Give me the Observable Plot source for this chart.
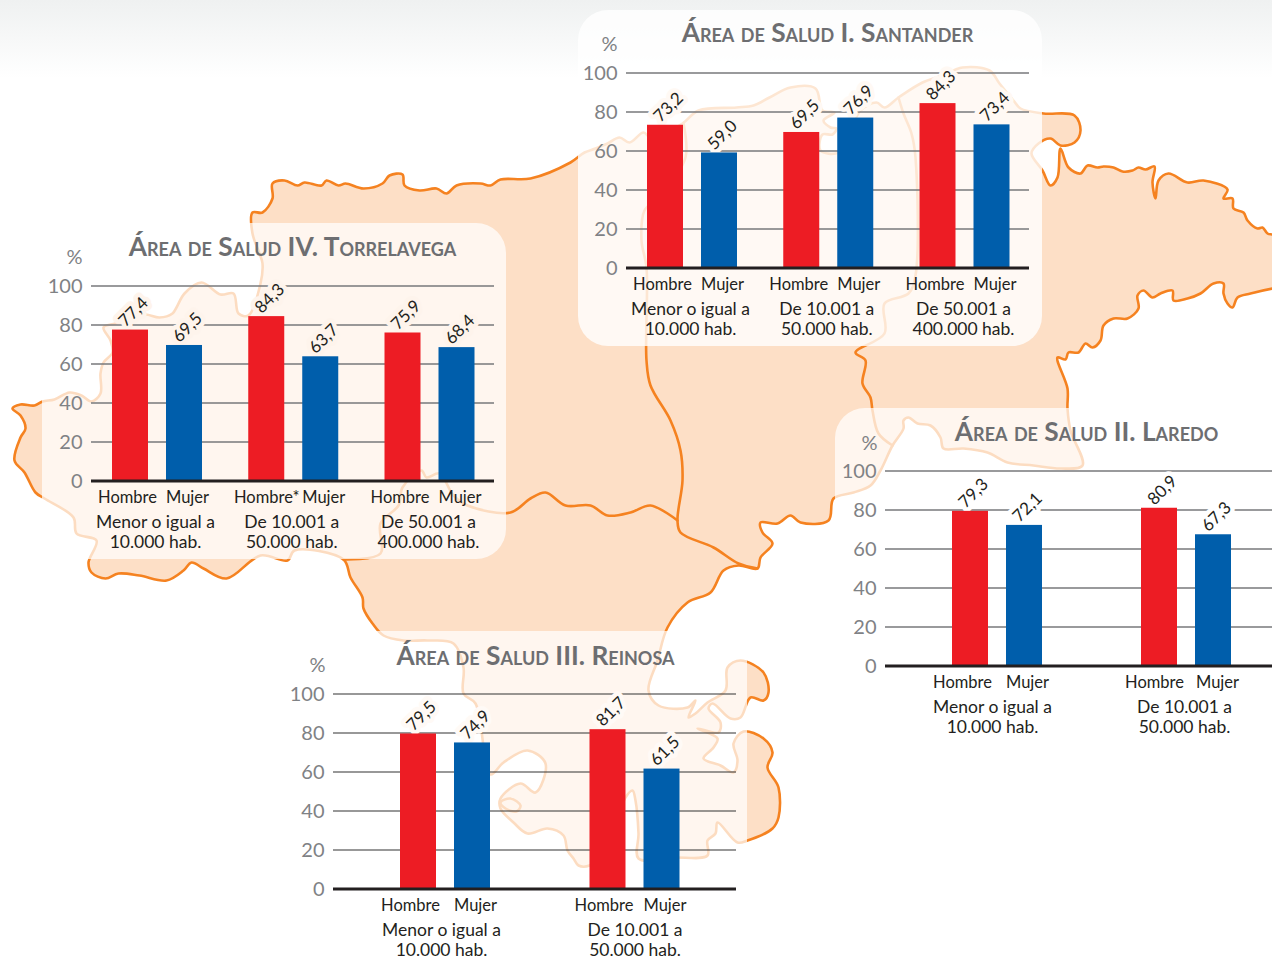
<!DOCTYPE html>
<html lang="es">
<head>
<meta charset="utf-8">
<script src="https://cdn.jsdelivr.net/npm/d3@7"></script>
<script src="https://cdn.jsdelivr.net/npm/@observablehq/plot@0.6"></script>
<style>
html,body{margin:0;padding:0;width:1272px;height:959px;overflow:hidden;background:#fff;}
#page{position:relative;width:1272px;height:959px;overflow:hidden;background:linear-gradient(#eff1f1 0,#ffffff 78px);}
#page svg{position:absolute;}
</style>
</head>
<body>
<div id="page"></div>
<script>
// ---------- chart values ----------
const sexes = ["Hombre", "Mujer"];
const sizeGroups = ["Menor o igual a\n10.000 hab.", "De 10.001 a\n50.000 hab.", "De 50.001 a\n400.000 hab."];
const yTicks = [0, 20, 40, 60, 80, 100];

const santanderValues = [73.2, 59.0, 69.5, 76.9, 84.3, 73.4];
const torrelavegaValues = [77.4, 69.5, 84.3, 63.7, 75.9, 68.4];
const reinosaValues = [79.5, 74.9, 81.7, 61.5];
const laredoValues = [79.3, 72.1, 80.9, 67.3];

const santanderTitle = "Área de Salud I. Santander";
const laredoTitle = "Área de Salud II. Laredo";
const reinosaTitle = "Área de Salud III. Reinosa";
const torrelavegaTitle = "Área de Salud IV. Torrelavega";

// ---------- map background ----------
const mapOutline = [[12,408],[20,404],[34,405],[42,401],[54,399],[69,392],[81,395],[91,401],[100,393],[100,373],[103,362],[112,352],[110,340],[103,327],[115,323],[135,317],[145,314],[159,317],[172,313],[176,307],[184,293],[201,282],[220,294],[233,293],[238,313],[248,315],[260,283],[262,263],[259,253],[252,233],[252,212],[262,212],[272,198],[272,183],[284,180],[297,185],[304,182],[321,185],[326,180],[338,185],[345,183],[363,188],[382,183],[389,175],[402,174],[404,185],[419,190],[436,188],[446,193],[456,185],[480,183],[490,185],[500,179],[530,178],[570,162],[584,152],[595,148],[607,143],[619,137],[629,142],[643,132],[651,138],[682,123],[698,110],[736,107],[753,105],[769,97],[790,87],[815,88],[822,110],[834,112],[823,120],[830,127],[836,128],[832,134],[822,134],[820,150],[838,152],[850,130],[860,110],[876,102],[884,107],[898,97],[922,82],[942,75],[962,67],[989,70],[999,83],[1013,100],[1020,108],[1043,113],[1074,115],[1080,130],[1074,142],[1060,145],[1050,138],[1038,143],[1031,153],[1042,170],[1050,185],[1057,177],[1060,148],[1068,167],[1080,173],[1087,165],[1097,167],[1103,166],[1113,167],[1122,171],[1132,170],[1138,167],[1145,169],[1154,166],[1152,182],[1155,198],[1158,180],[1168,173],[1187,182],[1203,180],[1227,189],[1223,198],[1232,198],[1233,208],[1243,212],[1247,220],[1257,228],[1262,227],[1267,233],[1272,234],[1295,236],[1295,285],[1272,288],[1250,293],[1237,297],[1232,307],[1227,303],[1223,293],[1223,283],[1213,283],[1200,293],[1187,298],[1173,300],[1172,290],[1160,293],[1152,297],[1143,290],[1137,295],[1138,308],[1127,318],[1113,318],[1103,325],[1100,340],[1092,347],[1085,343],[1078,352],[1068,352],[1065,359],[1057,357],[1067,388],[1067,408],[1070,430],[1082,465],[1060,468],[1033,465],[1007,462],[987,452],[963,448],[943,448],[940,437],[930,425],[917,423],[908,417],[903,420],[903,428],[892,445],[880,470],[870,485],[853,492],[833,498],[828,520],[800,522],[790,515],[777,523],[760,522],[762,532],[772,543],[760,557],[757,568],[738,565],[723,570],[710,592],[687,602],[667,627],[657,660],[648,690],[658,705],[687,707],[695,700],[688,717],[695,713],[707,702],[725,690],[727,667],[740,660],[763,672],[768,692],[763,700],[750,697],[740,717],[730,718],[712,703],[708,708],[720,722],[718,732],[697,728],[717,738],[713,747],[703,758],[720,765],[733,772],[737,760],[733,743],[743,731],[763,738],[772,752],[767,767],[778,787],[778,817],[772,828],[747,840],[737,842],[717,822],[715,833],[707,840],[707,855],[673,857],[638,858],[638,833],[635,800],[632,790],[625,797],[605,850],[589,865],[578,865],[573,858],[567,850],[563,835],[547,828],[527,833],[513,822],[500,808],[500,798],[520,783],[535,792],[545,763],[527,750],[503,762],[490,774],[475,703],[463,693],[463,667],[453,643],[427,640],[403,640],[383,635],[372,623],[363,608],[362,597],[350,577],[343,559],[294,550],[287,560],[260,555],[226,578],[203,568],[191,562],[183,570],[166,580],[139,575],[118,573],[105,578],[91,572],[88,562],[96,540],[76,533],[73,517],[44,498],[35,492],[24,472],[14,460],[20,437],[25,428],[20,415]];
const borderSantander = [[683,123],[685,157],[660,195],[644,210],[641,240],[646,267],[646,360],[650,385],[670,420],[680,450],[682,480],[677,520],[680,532],[713,547],[738,563],[757,568]];
const borderLaredo = [[898,97],[903,113],[911,133],[915,157],[915,275],[908,293],[884,303],[884,333],[855,352],[865,360],[862,383],[870,397],[872,410],[878,433],[892,445]];
const borderReinosa = [[343,559],[380,553],[380,523],[398,505],[402,487],[421,470],[426,477],[439,473],[453,495],[467,505],[510,512],[530,498],[545,492],[565,505],[590,505],[607,515],[630,512],[650,505],[677,520]];
const islet = [[500,802],[510,798],[520,805],[516,811],[505,808]];

const toRows = (pts, id) => pts.map(([x, y]) => ({x, y, id}));
const mapFill = "#fddfc6", mapStroke = "#f58220";

const mapPlot = Plot.plot({
  width: 1272, height: 959, margin: 0,
  x: {domain: [0, 1272], axis: null},
  y: {domain: [0, 959], range: [0, 959], axis: null},
  style: {background: "transparent", left: "0", top: "0"},
  marks: [
    Plot.line(toRows(mapOutline, "land"), {x: "x", y: "y", z: "id", curve: "catmull-rom-closed", fill: mapFill, stroke: mapStroke, strokeWidth: 2.6}),
    Plot.line([...toRows(borderSantander, "a"), ...toRows(borderLaredo, "b"), ...toRows(borderReinosa, "c")], {x: "x", y: "y", z: "id", curve: "catmull-rom", stroke: mapStroke, strokeWidth: 2.6}),
    Plot.line(toRows(islet, "islet"), {x: "x", y: "y", z: "id", curve: "catmull-rom-closed", stroke: mapStroke, strokeWidth: 2.6})
  ]
});
document.getElementById("page").append(mapPlot);

// ---------- panels ----------
const FONT = "Lato, 'Open Sans', sans-serif";
const W = 464, H = 336, MT = 62.5, MB = 78.5;
const fmt = v => v.toFixed(1).replace(".", ",");

function panel({title, values, groupNames, sexNames, left, top, gridLeft, gridRight, firstCenter, step, titleX, titleY, pctX, pctY, sexShifts, groupShifts, gridColor, gridWidth, veil, halo}) {
  const ML = gridLeft - left;
  const rows = values.map((value, i) => {
    const g = Math.floor(i / 2), k = i % 2;
    const c = g + (k ? 27 : -27) / step;
    return {value, sex: sexes[k], x1: c - 18 / step, x2: c + 18 / step, c, labelX: c + sexShifts[i] / step, label: sexNames[i]};
  });
  const groups = groupNames.map((name, g) => ({name, x: g + groupShifts[g] / step}));
  return Plot.plot({
    width: W, height: H,
    marginLeft: ML, marginRight: left + W - gridRight, marginTop: MT, marginBottom: MB,
    x: {domain: [(gridLeft - firstCenter) / step, (gridRight - firstCenter) / step], axis: null},
    y: {domain: [0, 100], axis: null},
    color: {domain: sexes, range: ["#ed1c24", "#005eab"]},
    style: {left: left + "px", top: top + "px", background: `rgba(255,255,255,${veil})`, borderRadius: "30px", fontFamily: FONT, overflow: "visible"},
    marks: [
      Plot.ruleY(yTicks.slice(1), {stroke: gridColor, strokeWidth: gridWidth}),
      Plot.axisY({ticks: yTicks, tickSize: 0, tickPadding: 9, dy: 0.5, label: null, fontSize: 20, color: "#7f8285", fontFamily: FONT}),
      Plot.text(["%"], {frameAnchor: "top-left", dx: pctX - ML, dy: pctY - MT, textAnchor: "middle", lineAnchor: "middle", fontSize: 20, fill: "#7f8285"}),
      Plot.text([title], {frameAnchor: "top-left", dx: titleX - ML, dy: titleY - MT, textAnchor: "middle", lineAnchor: "middle", fontSize: 26.3, fontWeight: 700, fontVariant: "small-caps", fill: "#6d6e71"}),
      Plot.text(rows, {x: "c", y: "value", text: d => fmt(d.value), rotate: -45, dx: 3, dy: -18, fontSize: 17, fontWeight: 400, fill: "#231f20", stroke: halo, strokeWidth: 9, textAnchor: "middle", lineAnchor: "middle"}),
      Plot.rect(rows, {x1: "x1", x2: "x2", y1: 0, y2: "value", fill: "sex"}),
      Plot.ruleY([0], {stroke: "#231f20", strokeWidth: 3}),
      Plot.text(rows, {x: "labelX", y: 0, text: "label", dy: 16.5, fontSize: 16.5, fill: "#231f20", textAnchor: "middle", lineAnchor: "middle"}),
      Plot.text(groups, {x: "x", y: 0, text: "name", dy: 50.5, fontSize: 17.5, lineHeight: 1.14, fill: "#231f20", textAnchor: "middle", lineAnchor: "middle"})
    ]
  });
}

const page = document.getElementById("page");
const plainLabels = [...sexes, ...sexes, ...sexes];
const starLabels = ["Hombre", "Mujer", "Hombre*", "Mujer", "Hombre", "Mujer"];

page.append(panel({title: torrelavegaTitle, values: torrelavegaValues, groupNames: sizeGroups, sexNames: starLabels,
  left: 42, top: 223, gridLeft: 91, gridRight: 494, firstCenter: 157, step: 136.25, titleX: 250, titleY: 24, pctX: 32, pctY: 34,
  sexShifts: [-3, 3, 0, 3, -3, 3], groupShifts: [-2, -2, -1.5], gridColor: "#77787b", gridWidth: 1.5, veil: 0.72, halo: "#fef4ec"}));
page.append(panel({title: reinosaTitle, values: reinosaValues, groupNames: sizeGroups.slice(0, 2), sexNames: plainLabels,
  left: 283, top: 631, gridLeft: 333, gridRight: 736, firstCenter: 445, step: 189.5, titleX: 252, titleY: 25, pctX: 34, pctY: 34,
  sexShifts: [-8, 3, -4, 3], groupShifts: [-4, 0], gridColor: "#333333", gridWidth: 1.2, veil: 0.72, halo: "#fffaf6"}));
page.append(panel({title: santanderTitle, values: santanderValues, groupNames: sizeGroups, sexNames: plainLabels,
  left: 578, top: 10, gridLeft: 626, gridRight: 1029, firstCenter: 692, step: 136.25, titleX: 249, titleY: 23, pctX: 31, pctY: 34,
  sexShifts: [-3, 3, -3, 3, -3, 3], groupShifts: [-2, -2, -1.5], gridColor: "#77787b", gridWidth: 1.5, veil: 0.8, halo: "#fff9f4"}));
page.append(panel({title: laredoTitle, values: laredoValues, groupNames: sizeGroups.slice(0, 2), sexNames: plainLabels,
  left: 835, top: 408, gridLeft: 885, gridRight: 1288, firstCenter: 997, step: 189, titleX: 251, titleY: 24, pctX: 34, pctY: 35,
  sexShifts: [-8, 3, -5, 4], groupShifts: [-5, -2], gridColor: "#77787b", gridWidth: 1.5, veil: 0.72, halo: "#ffffff"}));
</script>
</body>
</html>
